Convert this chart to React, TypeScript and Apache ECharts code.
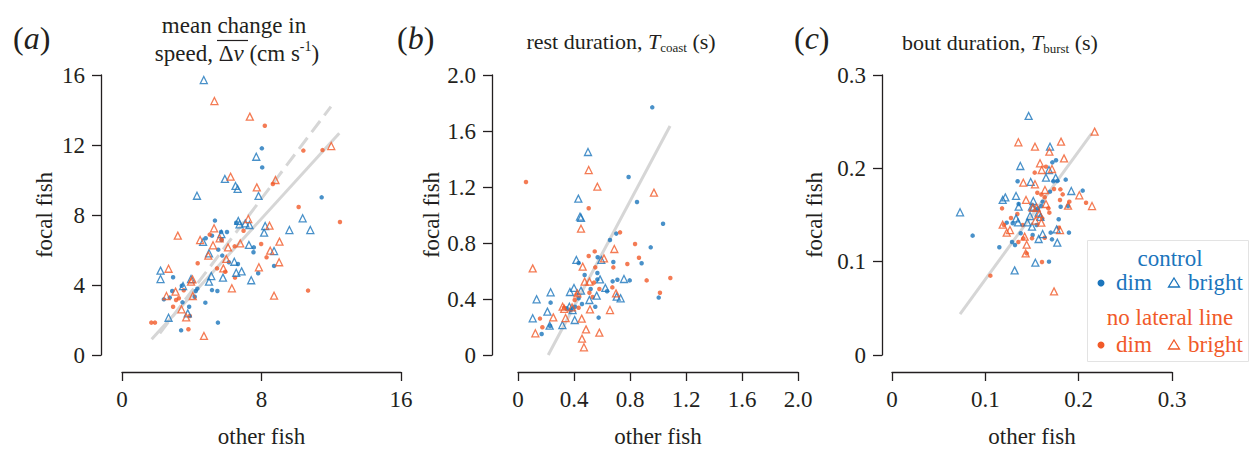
import React, { useEffect, useRef } from 'react';
import * as echarts from 'echarts';

// ---------- data ----------
// panel (a): mean change in speed
const aCtrlDim = [[8.02,11.81],[8.04,10.72],[11.45,9.01],[5.33,7.68],[6.55,7.56],[5.68,7.03],[6.02,7.03],[4.80,6.67],[5.16,6.82],[5.71,6.57],[5.52,6.02],[5.75,5.68],[7.56,6.15],[7.54,5.87],[6.13,5.30],[6.65,5.20],[7.81,4.67],[8.72,5.09],[2.93,4.44],[3.43,3.96],[4.32,3.79],[4.23,3.66],[5.16,3.71],[5.47,3.66],[2.88,3.66],[2.74,3.28],[2.40,3.18],[3.47,3.01],[4.78,2.99],[3.85,2.76],[5.50,1.85],[3.39,1.41],[4.17,3.33]];
const aCtrlBright = [[4.69,15.71],[7.70,11.33],[5.90,10.06],[6.51,9.66],[6.63,9.49],[4.30,9.10],[7.83,9.09],[6.67,7.66],[6.74,7.47],[7.07,7.52],[7.31,7.43],[8.21,7.37],[8.15,6.99],[9.60,7.14],[10.36,7.81],[10.80,7.14],[7.28,6.29],[8.72,5.94],[4.99,5.81],[4.65,6.46],[6.44,5.33],[6.55,4.70],[6.86,4.78],[5.79,4.42],[5.12,4.51],[4.99,4.19],[2.21,4.82],[2.21,4.34],[3.96,4.34],[7.41,4.27],[2.67,2.13],[3.77,2.38],[5.70,6.91],[3.50,3.94]];
const aNoLLDim = [[8.19,13.10],[10.40,11.68],[11.50,11.71],[8.65,9.77],[10.13,8.46],[12.50,7.60],[6.97,7.10],[5.03,6.88],[6.46,6.21],[7.98,6.34],[8.29,5.58],[4.34,5.24],[5.45,4.95],[5.92,4.76],[6.48,4.42],[3.54,3.70],[3.26,3.24],[3.10,3.14],[2.93,2.76],[3.89,2.23],[3.81,1.47],[1.68,1.85],[1.89,1.85],[10.67,3.68],[5.71,6.61]];
const aNoLLBright = [[5.30,14.51],[7.33,13.62],[12.00,11.94],[6.23,10.19],[7.73,9.58],[8.80,10.00],[7.24,7.77],[8.46,7.39],[5.28,7.24],[3.20,6.82],[4.48,6.57],[5.60,6.67],[5.22,6.27],[6.08,6.15],[6.78,6.38],[9.03,6.48],[8.50,5.96],[4.95,5.68],[5.98,5.49],[9.01,5.30],[7.85,5.01],[5.81,4.95],[2.67,4.93],[4.04,4.32],[3.96,4.19],[6.30,3.81],[3.07,3.62],[2.55,3.37],[4.06,3.37],[8.72,3.39],[3.41,2.61],[3.68,2.15],[4.70,1.09]];
const aFitSolid = [[1.70,0.90],[12.46,12.67]];
const aFitDashed = [[2.17,1.24],[11.98,14.19]];

// panel (b): rest duration
const bCtrlDim = [[0.959,1.769],[0.790,1.271],[0.850,1.093],[1.036,0.938],[0.948,0.769],[0.883,0.655],[0.702,0.867],[0.657,0.821],[0.681,0.664],[0.798,0.533],[0.710,0.538],[0.676,0.526],[0.636,0.455],[0.569,0.698],[0.567,0.586],[0.567,0.540],[0.433,0.657],[0.476,0.571],[0.519,0.471],[0.433,0.405],[0.457,0.364],[0.552,0.345],[0.233,0.374],[0.576,0.267],[0.229,0.207],[0.169,0.150],[1.005,0.410],[0.376,0.321],[0.407,0.345],[0.348,0.333]];
const bCtrlBright = [[0.500,1.450],[0.431,1.117],[0.443,0.988],[0.450,0.980],[0.417,0.679],[0.757,0.543],[0.586,0.540],[0.624,0.479],[0.733,0.405],[0.705,0.417],[0.562,0.424],[0.510,0.393],[0.371,0.450],[0.400,0.479],[0.450,0.460],[0.233,0.448],[0.133,0.398],[0.210,0.310],[0.105,0.262],[0.317,0.214],[0.405,0.250],[0.226,0.210],[0.390,0.321],[0.595,0.679],[0.367,0.345]];
const bNoLLDim = [[0.057,1.236],[0.505,1.048],[0.729,0.876],[0.836,0.793],[0.548,0.740],[0.505,0.707],[0.864,0.695],[0.781,0.650],[0.681,0.626],[0.552,0.626],[1.088,0.550],[0.919,0.533],[1.014,0.445],[0.674,0.483],[0.543,0.517],[0.581,0.471],[0.510,0.445],[0.533,0.414],[0.405,0.393],[0.433,0.338],[0.329,0.338],[0.157,0.260],[0.174,0.198],[0.419,0.433]];
const bNoLLBright = [[0.505,1.321],[0.567,1.202],[0.971,1.160],[0.450,0.902],[0.688,0.757],[0.614,0.690],[0.462,0.631],[0.105,0.619],[0.476,0.524],[0.510,0.524],[0.700,0.440],[0.424,0.440],[0.319,0.345],[0.386,0.340],[0.514,0.326],[0.657,0.321],[0.340,0.264],[0.252,0.269],[0.455,0.260],[0.486,0.183],[0.581,0.160],[0.124,0.155],[0.457,0.117],[0.471,0.055],[0.330,0.330]];
const bFit = [[0.216,0.0],[1.086,1.636]];

// panel (c): bout duration
const cCtrlDim = [[0.1718,0.2064],[0.1757,0.2086],[0.1729,0.1861],[0.1771,0.1864],[0.1861,0.1879],[0.1346,0.1861],[0.2043,0.1761],[0.1693,0.1750],[0.1614,0.1643],[0.1807,0.1589],[0.1886,0.1596],[0.1357,0.1618],[0.1600,0.1596],[0.1786,0.1454],[0.1229,0.1418],[0.1293,0.1411],[0.1550,0.1393],[0.1379,0.1304],[0.1507,0.1286],[0.1700,0.1311],[0.1896,0.1311],[0.1714,0.1239],[0.1286,0.1211],[0.1318,0.1179],[0.1150,0.1154],[0.0864,0.1279],[0.1682,0.1000],[0.1564,0.1571]];
const cCtrlBright = [[0.1464,0.2561],[0.1693,0.2232],[0.1375,0.2025],[0.1682,0.1982],[0.1650,0.1900],[0.1754,0.1900],[0.1486,0.1854],[0.1921,0.1757],[0.1329,0.1704],[0.1214,0.1689],[0.1186,0.1661],[0.1357,0.1589],[0.1514,0.1650],[0.1500,0.1589],[0.1571,0.1525],[0.0729,0.1529],[0.1329,0.1464],[0.1479,0.1489],[0.1350,0.1421],[0.1450,0.1421],[0.1500,0.1375],[0.1614,0.1296],[0.1571,0.1243],[0.1764,0.1346],[0.1771,0.1204],[0.1536,0.0989],[0.1314,0.0907],[0.1514,0.1580],[0.1590,0.1480]];
const cNoLLDim = [[0.1529,0.1954],[0.1650,0.2018],[0.1736,0.1779],[0.1804,0.1775],[0.1829,0.1721],[0.1557,0.1739],[0.1600,0.1720],[0.1636,0.1690],[0.1800,0.1661],[0.1900,0.1643],[0.2079,0.1632],[0.1675,0.1571],[0.1686,0.1525],[0.1179,0.1571],[0.1343,0.1511],[0.1275,0.1468],[0.1200,0.1393],[0.1400,0.1393],[0.1610,0.1464],[0.1786,0.1364],[0.1407,0.1250],[0.1354,0.1211],[0.1636,0.1257],[0.1443,0.1089],[0.1607,0.0996],[0.1054,0.0850],[0.1500,0.1250]];
const cNoLLBright = [[0.2171,0.2393],[0.1354,0.2279],[0.1532,0.2232],[0.1811,0.2286],[0.1686,0.2179],[0.1843,0.2107],[0.1586,0.2054],[0.1604,0.1982],[0.1714,0.1993],[0.1407,0.1846],[0.1532,0.1829],[0.2007,0.1711],[0.1436,0.1661],[0.2143,0.1596],[0.1507,0.1579],[0.1550,0.1580],[0.1650,0.1618],[0.1886,0.1600],[0.1579,0.1511],[0.1536,0.1439],[0.1600,0.1418],[0.1186,0.1396],[0.1264,0.1339],[0.1229,0.1311],[0.1421,0.1268],[0.1800,0.1339],[0.1443,0.1182],[0.1432,0.1089],[0.1736,0.0682],[0.1639,0.1768]];
const cFit = [[0.0729,0.0439],[0.214,0.2375]];

// axis ranges / ticks
const aRange = { max: 16, xInterval: 8, yInterval: 4 };
const bRange = { max: 2, xInterval: 0.4, yInterval: 0.4 };
const cRange = { max: 0.3, xInterval: 0.1, yInterval: 0.1 };

const xName = 'other fish';
const yName = 'focal fish';

// ---------- styles ----------
const FONT = "'Liberation Serif', 'Times New Roman', Times, serif";
const INK = '#231f20';
const BLUE = '#1b75bc';
const ORANGE = '#f15a29';
const FIT = '#d6d6d6';

const fmt1 = (v: number) => (v === 0 ? '0' : v.toFixed(1));
const fmt0 = (v: number) => String(Math.round(v));

function xAxisFor(idx: number, r: any, formatter: any) {
  return {
    type: 'value', gridIndex: idx, min: 0, max: r.max, interval: r.xInterval,
    offset: 17,
    axisLine: { show: true, onZero: false, lineStyle: { color: INK, width: 1.3 } },
    axisTick: { show: true, length: 9, lineStyle: { color: INK, width: 1.3 } },
    splitLine: { show: false },
    axisLabel: { color: INK, fontFamily: FONT, fontSize: 23, margin: 16, formatter },
    name: xName, nameLocation: 'middle', nameGap: 53,
    nameTextStyle: { color: INK, fontFamily: FONT, fontSize: 23 },
  };
}
function yAxisFor(idx: number, r: any, offset: number, nameGap: number, formatter: any) {
  return {
    type: 'value', gridIndex: idx, min: 0, max: r.max, interval: r.yInterval,
    offset,
    axisLine: { show: true, onZero: false, lineStyle: { color: INK, width: 1.3 } },
    axisTick: { show: true, length: 9, lineStyle: { color: INK, width: 1.3 } },
    splitLine: { show: false },
    axisLabel: { color: INK, fontFamily: FONT, fontSize: 23, margin: 16, formatter },
    name: yName, nameLocation: 'middle', nameGap,
    nameTextStyle: { color: INK, fontFamily: FONT, fontSize: 23 },
  };
}

function dots(idx: number, data: number[][], color: string) {
  return {
    type: 'scatter', xAxisIndex: idx, yAxisIndex: idx, data,
    symbol: 'circle', symbolSize: 4.5, itemStyle: { color }, z: 3,
  };
}
function tris(idx: number, data: number[][], color: string) {
  return {
    type: 'scatter', xAxisIndex: idx, yAxisIndex: idx, data,
    symbol: 'triangle', symbolSize: 7,
    itemStyle: { color: 'rgba(255,255,255,0)', borderColor: color, borderWidth: 1.3 }, z: 4,
  };
}
function fitLine(idx: number, data: number[][], dashed = false) {
  return {
    type: 'line', xAxisIndex: idx, yAxisIndex: idx, data, showSymbol: false, symbol: 'none',
    lineStyle: { color: FIT, width: 3, type: dashed ? [14, 7] : 'solid' }, z: 2,
  };
}

const tBase = { fontFamily: FONT, fontSize: 23, fill: INK };
const rich = {
  i: { fontFamily: FONT, fontSize: 23, fontStyle: 'italic', fill: INK, lineHeight: 27 },
  n: { fontFamily: FONT, fontSize: 23, fill: INK, lineHeight: 27 },
  sup: { fontFamily: FONT, fontSize: 14, fill: INK, lineHeight: 12, verticalAlign: 'top' },
};
const richSmall = {
  i: { fontFamily: FONT, fontSize: 22, fontStyle: 'italic', fill: INK, lineHeight: 26 },
  n: { fontFamily: FONT, fontSize: 22, fill: INK, lineHeight: 26 },
  sub: { fontFamily: FONT, fontSize: 13, fill: INK, lineHeight: 12, verticalAlign: 'bottom' },
};
const panelRich = {
  p: { fontFamily: FONT, fontSize: 32, fill: INK },
  pi: { fontFamily: FONT, fontSize: 32, fontStyle: 'italic', fill: INK },
};

function legendRow(y: number, color: string) {
  return [
    { type: 'circle', z: 20, shape: { cx: 1101, cy: y + 1, r: 3.5 }, style: { fill: color } },
    { type: 'text', z: 20, x: 1116, y, style: { text: 'dim', fontFamily: FONT, fontSize: 23, fill: color, align: 'left', verticalAlign: 'middle' } },
    { type: 'polygon', z: 20, shape: { points: [[1174, y - 4], [1179.5, y + 5], [1168.5, y + 5]] }, style: { fill: 'none', stroke: color, lineWidth: 1.3 } },
    { type: 'text', z: 20, x: 1188, y, style: { text: 'bright', fontFamily: FONT, fontSize: 23, fill: color, align: 'left', verticalAlign: 'middle' } },
  ];
}

const gridBase = { top: 75, height: 280, outerBoundsMode: 'none', containLabel: false };

const option: any = {
  animation: false,
  backgroundColor: '#ffffff',
  textStyle: { fontFamily: FONT },
  grid: [
    { ...gridBase, left: 122, width: 279 },
    { ...gridBase, left: 518, width: 280 },
    { ...gridBase, left: 892, width: 280 },
  ],
  xAxis: [xAxisFor(0, aRange, fmt0), xAxisFor(1, bRange, fmt1), xAxisFor(2, cRange, fmt1)],
  yAxis: [
    yAxisFor(0, aRange, 21, 45, fmt0),
    yAxisFor(1, bRange, 26, 48, fmt1),
    yAxisFor(2, cRange, 10, 56, fmt1),
  ],
  series: [
    fitLine(0, aFitSolid), fitLine(0, aFitDashed, true),
    dots(0, aCtrlDim, BLUE), dots(0, aNoLLDim, ORANGE), tris(0, aCtrlBright, BLUE), tris(0, aNoLLBright, ORANGE),
    fitLine(1, bFit),
    dots(1, bCtrlDim, BLUE), dots(1, bNoLLDim, ORANGE), tris(1, bCtrlBright, BLUE), tris(1, bNoLLBright, ORANGE),
    fitLine(2, cFit),
    dots(2, cCtrlDim, BLUE), dots(2, cNoLLDim, ORANGE), tris(2, cCtrlBright, BLUE), tris(2, cNoLLBright, ORANGE),
  ],
  graphic: [
    { type: 'text', x: 13, y: 38, style: { text: '{p|(}{pi|a}{p|)}', rich: panelRich, align: 'left', verticalAlign: 'middle' } },
    { type: 'text', x: 397, y: 38, style: { text: '{p|(}{pi|b}{p|)}', rich: panelRich, align: 'left', verticalAlign: 'middle' } },
    { type: 'text', x: 794, y: 38, style: { text: '{p|(}{pi|c}{p|)}', rich: panelRich, align: 'left', verticalAlign: 'middle' } },
    { type: 'text', x: 234, y: 25, style: { ...tBase, text: 'mean change in', align: 'center', verticalAlign: 'middle' } },
    { type: 'text', x: 237, y: 53, style: { ...tBase, text: '{n|speed, Δ}{i|v}{n| (cm s}{sup|-1}{n|)}', rich, align: 'center', verticalAlign: 'middle' } },
    { type: 'line', shape: { x1: 217, y1: 40.5, x2: 248, y2: 40.5 }, style: { stroke: INK, lineWidth: 1.2 } },
    { type: 'text', x: 621, y: 41, style: { ...tBase, fontSize: 22, text: '{n|rest duration, }{i|T}{sub|coast}{n| (s)}', rich: richSmall, align: 'center', verticalAlign: 'middle' } },
    { type: 'text', x: 1000, y: 42, style: { ...tBase, fontSize: 22, text: '{n|bout duration, }{i|T}{sub|burst}{n| (s)}', rich: richSmall, align: 'center', verticalAlign: 'middle' } },
    { type: 'rect', z: 10, shape: { x: 1087.5, y: 240.5, width: 161, height: 121 }, style: { fill: '#ffffff', stroke: '#e3e3e3', lineWidth: 1 } },
    { type: 'text', z: 20, x: 1170, y: 258, style: { text: 'control', fontFamily: FONT, fontSize: 23, fill: BLUE, align: 'center', verticalAlign: 'middle' } },
    ...legendRow(282, BLUE),
    { type: 'text', z: 20, x: 1170, y: 317, style: { text: 'no lateral line', fontFamily: FONT, fontSize: 23, fill: ORANGE, align: 'center', verticalAlign: 'middle' } },
    ...legendRow(344, ORANGE),
  ],
};

export default function App() {
  const ref = useRef<HTMLDivElement>(null);
  useEffect(() => {
    const chart = echarts.init(ref.current as HTMLDivElement, null, { renderer: 'svg' });
    chart.setOption(option);
    return () => chart.dispose();
  }, []);
  return <div ref={ref} style={{ position: 'absolute', left: 0, top: 0, width: 1252, height: 449 }} />;
}
